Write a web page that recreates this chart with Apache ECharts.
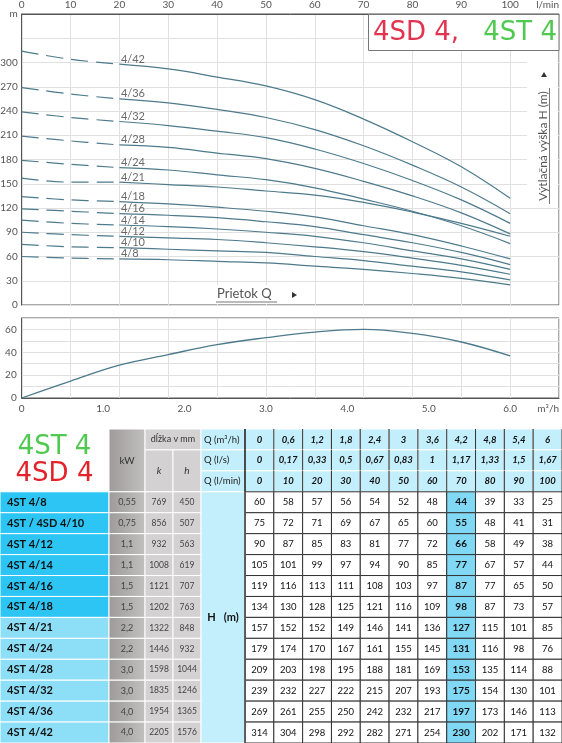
<!DOCTYPE html>
<html><head><meta charset="utf-8">
<script src="https://cdn.jsdelivr.net/npm/echarts@6/dist/echarts.min.js"></script>
<style>html,body{margin:0;padding:0;background:#fff}#c{width:562px;height:743px}</style>
</head><body><div id="c"></div>
<script>
// ---------- DATA ----------
const flowLmin = [0, 10, 20, 30, 40, 50, 60, 70, 80, 90, 100];
const flowM3hLabels = ['0', '0,6', '1,2', '1,8', '2,4', '3', '3,6', '4,2', '4,8', '5,4', '6'];
const flowLsLabels = ['0', '0,17', '0,33', '0,5', '0,67', '0,83', '1', '1,17', '1,33', '1,5', '1,67'];
const qRowLabels = ['Q (m³/h)', 'Q (l/s)', 'Q (l/min)'];
const models = ['4ST 4/8', '4ST / 4SD 4/10', '4ST 4/12', '4ST 4/14', '4ST 4/16', '4ST 4/18', '4ST 4/21', '4ST 4/24', '4ST 4/28', '4ST 4/32', '4ST 4/36', '4ST 4/42'];
const curveNames = ['4/8', '4/10', '4/12', '4/14', '4/16', '4/18', '4/21', '4/24', '4/28', '4/32', '4/36', '4/42'];
const powerKW = ['0,55', '0,75', '1,1', '1,1', '1,5', '1,5', '2,2', '2,2', '3,0', '3,0', '4,0', '4,0'];
const lengthK = [769, 856, 932, 1008, 1121, 1202, 1322, 1446, 1598, 1835, 1954, 2205];
const lengthH = [450, 507, 563, 619, 707, 763, 848, 932, 1044, 1246, 1365, 1576];
const head_4_8  = [60, 58, 57, 56, 54, 52, 48, 44, 39, 33, 25];
const head_4_10 = [75, 72, 71, 69, 67, 65, 60, 55, 48, 41, 31];
const head_4_12 = [90, 87, 85, 83, 81, 77, 72, 66, 58, 49, 38];
const head_4_14 = [105, 101, 99, 97, 94, 90, 85, 77, 67, 57, 44];
const head_4_16 = [119, 116, 113, 111, 108, 103, 97, 87, 77, 65, 50];
const head_4_18 = [134, 130, 128, 125, 121, 116, 109, 98, 87, 73, 57];
const head_4_21 = [157, 152, 152, 149, 146, 141, 136, 127, 115, 101, 85];
const head_4_24 = [179, 174, 170, 167, 161, 155, 145, 131, 116, 98, 76];
const head_4_28 = [209, 203, 198, 195, 188, 181, 169, 153, 135, 114, 88];
const head_4_32 = [239, 232, 227, 222, 215, 207, 193, 175, 154, 130, 101];
const head_4_36 = [269, 261, 255, 250, 242, 232, 217, 197, 173, 146, 113];
const head_4_42 = [314, 304, 298, 292, 282, 271, 254, 230, 202, 171, 132];
const effFlowM3h = [0, 0.6, 1.2, 1.8, 2.4, 3.0, 3.6, 4.2, 4.8, 5.4, 6.0];
const effPercent = [0, 14.8, 28.7, 38, 46.7, 52.8, 57.7, 60, 56.5, 49, 36.8];
const highlightCol = 7;

const heads = [head_4_8, head_4_10, head_4_12, head_4_14, head_4_16, head_4_18, head_4_21, head_4_24, head_4_28, head_4_32, head_4_36, head_4_42];

// ---------- STYLE ----------
const FONT = 'Lato';
const LOGO_FONT = '"DejaVu Sans"';
const curveColor = '#4d7a8c';
const gridLineColor = '#e0e0e0';
const axisColor = '#555';
const labelColor = '#555';

// ---------- TABLE CELLS ----------
const W = 562;
const colEdges = [0, 109, 145, 173, 201, 245];
const valW = (W - 245) / 11;
for (let j = 1; j <= 11; j++) colEdges.push(245 + valW * j);
const grayGrad = new echarts.graphic.LinearGradient(0, 0, 1, 0, [{offset: 0, color: '#9e9a9a'}, {offset: 1, color: '#c2bfbf'}]);
const cells = [];
function add(c0, c1, r0, r1, o) { cells.push(Object.assign({x0: colEdges[c0], x1: colEdges[c1], r0: r0, r1: r1}, o)); }

add(0, 1, 0, 3, {fill: '#fff', texts: [
  {text: '4ST 4', dy: -13.5, fill: '#4fc94f', font: '26px ' + LOGO_FONT},
  {text: '4SD 4', dy: 13.5, fill: '#e3222b', font: '26px ' + LOGO_FONT}
]});
add(1, 2, 0, 3, {fill: grayGrad, stroke: '#fff', text: 'kW', font: '10px ' + FONT, color: '#333'});
add(2, 4, 0, 1, {fill: '#d3d1d1', stroke: '#fff', text: 'dĺžka v mm', font: '9px ' + FONT, color: '#333'});
add(2, 3, 1, 3, {fill: '#d3d1d1', stroke: '#fff', text: 'k', font: 'italic 10px ' + FONT, color: '#333'});
add(3, 4, 1, 3, {fill: '#d3d1d1', stroke: '#fff', text: 'h', font: 'italic 10px ' + FONT, color: '#333'});
const headerLabelRows = [flowM3hLabels, flowLsLabels, flowLmin.map(String)];
for (let r = 0; r < 3; r++) {
  add(4, 5, r, r + 1, {fill: '#c3eefb', stroke: '#fff', text: qRowLabels[r], align: 'left', pad: 3, font: '9.5px ' + FONT, color: '#222'});
  for (let j = 0; j < 11; j++) {
    add(5 + j, 6 + j, r, r + 1, {fill: '#c3eefb', stroke: '#fff', vStroke: '#333', text: headerLabelRows[r][j], font: 'italic bold 9.5px ' + FONT, color: '#111'});
  }
}
for (let i = 0; i < models.length; i++) {
  const r = 3 + i;
  add(0, 1, r, r + 1, {fill: i < 6 ? '#2cc5f4' : '#8ddff8', stroke: '#fff', text: models[i], align: 'left', pad: 7, font: 'bold 11px ' + FONT, color: '#111'});
  add(1, 2, r, r + 1, {fill: grayGrad, stroke: '#fff', text: powerKW[i], font: '9px ' + FONT, color: '#444'});
  add(2, 3, r, r + 1, {fill: '#d3d1d1', stroke: '#fff', text: String(lengthK[i]), font: '8.5px ' + FONT, color: '#444'});
  add(3, 4, r, r + 1, {fill: '#d3d1d1', stroke: '#fff', text: String(lengthH[i]), font: '8.5px ' + FONT, color: '#444'});
  for (let j = 0; j < 11; j++) {
    const hl = j === highlightCol;
    add(5 + j, 6 + j, r, r + 1, {fill: hl ? '#80d8f5' : '#fff', stroke: '#333', text: String(heads[i][j]), font: (hl ? 'bold 10px ' : '9.5px ') + FONT, color: '#111'});
  }
}
add(4, 5, 3, 15, {fill: '#c3eefb', stroke: '#fff', text: 'H   (m)', font: 'bold 11px ' + FONT, color: '#111'});
add(5, 5, 0, 15, {fill: 'none', stroke: '#333', lw: 1.5});

function renderCell(params, api) {
  const c = cells[params.dataIndex];
  const p0 = api.coord([c.x0, c.r0]);
  const p1 = api.coord([c.x1, c.r1]);
  const x = p0[0], y = p0[1], w = p1[0] - p0[0], h = p1[1] - p0[1];
  const ch = [];
  if (w > 0) {
    ch.push({type: 'rect', shape: {x: x, y: y, width: w, height: h}, style: {fill: c.fill, stroke: c.stroke || null, lineWidth: c.lw || 1}});
  } else {
    ch.push({type: 'line', shape: {x1: x, y1: y, x2: x, y2: y + h}, style: {stroke: c.stroke, lineWidth: c.lw || 1}});
  }
  if (c.vStroke) {
    ch.push({type: 'line', shape: {x1: x, y1: y, x2: x, y2: y + h}, style: {stroke: c.vStroke, lineWidth: 1}});
    ch.push({type: 'line', shape: {x1: x + w, y1: y, x2: x + w, y2: y + h}, style: {stroke: c.vStroke, lineWidth: 1}});
  }
  if (c.text != null) {
    ch.push({type: 'text', style: {text: c.text, x: c.align === 'left' ? x + c.pad : x + w / 2, y: y + h / 2,
      align: c.align || 'center', verticalAlign: 'middle', fill: c.color || '#222', font: c.font}});
  }
  if (c.texts) {
    c.texts.forEach(t => ch.push({type: 'text', style: {text: t.text, x: x + w / 2, y: y + h / 2 + t.dy, align: 'center', verticalAlign: 'middle', fill: t.fill, font: t.font}}));
  }
  return {type: 'group', children: ch};
}

// ---------- SERIES ----------
const series = [];
heads.forEach((hv, i) => {
  series.push({type: 'line', xAxisIndex: 0, yAxisIndex: 0, silent: true, symbol: 'none', smooth: 0.4,
    data: flowLmin.slice(0, 3).map((q, k) => [q, hv[k]]),
    lineStyle: {color: curveColor, width: 1.2, type: [17, 8]}, z: 3});
  series.push({type: 'line', xAxisIndex: 0, yAxisIndex: 0, silent: true, symbol: 'none', smooth: 0.4,
    data: flowLmin.slice(2).map((q, k) => [q, hv[k + 2]]),
    lineStyle: {color: curveColor, width: 1.2}, z: 3});
});
series.push({type: 'scatter', xAxisIndex: 0, yAxisIndex: 0, silent: true, symbolSize: 1,
  itemStyle: {color: 'rgba(0,0,0,0)'},
  data: heads.map((hv, i) => ({value: [flowLmin[2], hv[2]], name: curveNames[i]})),
  label: {show: true, formatter: '{b}', position: 'right', distance: 1, offset: [0, -5], fontSize: 11, color: '#444', fontFamily: FONT},
  z: 4});
series.push({type: 'line', xAxisIndex: 1, yAxisIndex: 1, silent: true, symbol: 'none', smooth: 0.4,
  data: effFlowM3h.map((q, k) => [q, effPercent[k]]),
  lineStyle: {color: curveColor, width: 1.3}, z: 3});
series.push({type: 'custom', xAxisIndex: 3, yAxisIndex: 2, silent: true, renderItem: renderCell,
  encode: {x: [0, 2], y: [1, 3]},
  data: cells.map(c => [c.x0, c.r0, c.x1, c.r1]), z: 5});

const axisLabelBase = {color: labelColor, fontSize: 10, fontFamily: FONT};

const option = {
  animation: false,
  backgroundColor: '#fff',
  textStyle: {fontFamily: FONT},
  grid: [
    {left: 21.7, top: 14, width: 537.3, height: 291, show: true, borderColor: axisColor, borderWidth: 1, outerBoundsMode: 'none', containLabel: false},
    {left: 21.7, top: 318, width: 537.3, height: 80, show: true, borderColor: axisColor, borderWidth: 1, outerBoundsMode: 'none', containLabel: false},
    {left: 0, top: 429, width: 562, height: 314, show: false, outerBoundsMode: 'none', containLabel: false}
  ],
  xAxis: [
    {gridIndex: 0, type: 'value', position: 'top', min: 0, max: 110, interval: 10,
      axisLine: {show: true, onZero: false, lineStyle: {color: axisColor}}, axisTick: {show: false},
      splitLine: {show: true, lineStyle: {color: gridLineColor}},
      axisLabel: Object.assign({}, axisLabelBase, {margin: 4, showMinLabel: true, showMaxLabel: true, alignMaxLabel: 'right',
        formatter: v => v === 110 ? 'l/min' : String(v)})},
    {gridIndex: 1, type: 'value', position: 'bottom', min: 0, max: 6.6, interval: 0.6,
      axisLine: {show: true, onZero: false, lineStyle: {color: axisColor}}, axisTick: {show: false},
      splitLine: {show: true, lineStyle: {color: gridLineColor}}, axisLabel: {show: false}},
    {gridIndex: 1, type: 'value', position: 'bottom', min: 0, max: 6.6, interval: 1,
      axisLine: {show: false, onZero: false}, axisTick: {show: false}, splitLine: {show: false},
      axisLabel: Object.assign({}, axisLabelBase, {margin: 6, showMinLabel: true, showMaxLabel: true, alignMaxLabel: 'right',
        formatter: v => Math.abs(v - 6.6) < 1e-6 ? 'm³/h' : (v === 0 ? '0' : v.toFixed(1))})},
    {gridIndex: 2, type: 'value', min: 0, max: 562, show: false}
  ],
  yAxis: [
    {gridIndex: 0, type: 'value', min: 0, max: 360, interval: 30,
      axisLine: {show: true, onZero: false, lineStyle: {color: axisColor}}, axisTick: {show: false},
      splitLine: {show: true, lineStyle: {color: gridLineColor}},
      axisLabel: Object.assign({}, axisLabelBase, {margin: 4, showMinLabel: true, showMaxLabel: true,
        formatter: v => v === 360 ? 'm' : (v === 330 ? '' : String(v))})},
    {gridIndex: 1, type: 'value', min: 0, max: 70, interval: 10,
      axisLine: {show: true, onZero: false, lineStyle: {color: axisColor}}, axisTick: {show: false},
      splitLine: {show: true, lineStyle: {color: gridLineColor}},
      axisLabel: Object.assign({}, axisLabelBase, {margin: 5, showMinLabel: true, showMaxLabel: true,
        formatter: v => (v % 20 === 0 && v <= 60) ? String(v) : ''})},
    {gridIndex: 2, type: 'value', min: 0, max: 15, inverse: true, show: false}
  ],
  graphic: [
    {type: 'rect', z: 10, shape: {x: 368.5, y: 14.5, width: 190.5, height: 36}, style: {fill: '#fff', stroke: '#777', lineWidth: 1}},
    {type: 'text', z: 11, style: {text: '4SD 4,', x: 373, y: 33, align: 'left', verticalAlign: 'middle', fill: '#e2334f', font: '26px ' + LOGO_FONT}},
    {type: 'text', z: 11, style: {text: '4ST 4', x: 557, y: 33, align: 'right', verticalAlign: 'middle', fill: '#4fc94f', font: '26px ' + LOGO_FONT}},
    {type: 'rect', z: 10, shape: {x: 527, y: 55, width: 31, height: 147}, style: {fill: '#fff'}},
    {type: 'polygon', z: 11, shape: {points: [[541, 77], [547, 77], [544, 72]]}, style: {fill: '#333'}},
    {type: 'text', z: 11, x: 543, y: 146, rotation: Math.PI / 2, style: {text: 'Výtlačná výška H (m)', x: 0, y: 0, align: 'center', verticalAlign: 'middle', fill: '#555', font: '12px ' + FONT}},
    {type: 'line', z: 11, shape: {x1: 549.5, y1: 88, x2: 549.5, y2: 204}, style: {stroke: '#777', lineWidth: 1}},
    {type: 'rect', z: 10, shape: {x: 213, y: 285, width: 88, height: 19}, style: {fill: '#fff'}},
    {type: 'text', z: 11, style: {text: 'Prietok Q', x: 217, y: 294, align: 'left', verticalAlign: 'middle', fill: '#555', font: '13px ' + FONT}},
    {type: 'line', z: 11, shape: {x1: 216, y1: 302, x2: 277, y2: 302}, style: {stroke: '#777', lineWidth: 1}},
    {type: 'polygon', z: 11, shape: {points: [[292, 292], [292, 298], [297, 295]]}, style: {fill: '#333'}}
  ],
  series: series
};
const chart = echarts.init(document.getElementById('c'), null, {renderer: 'canvas'});
chart.setOption(option);
</script>
</body></html>
